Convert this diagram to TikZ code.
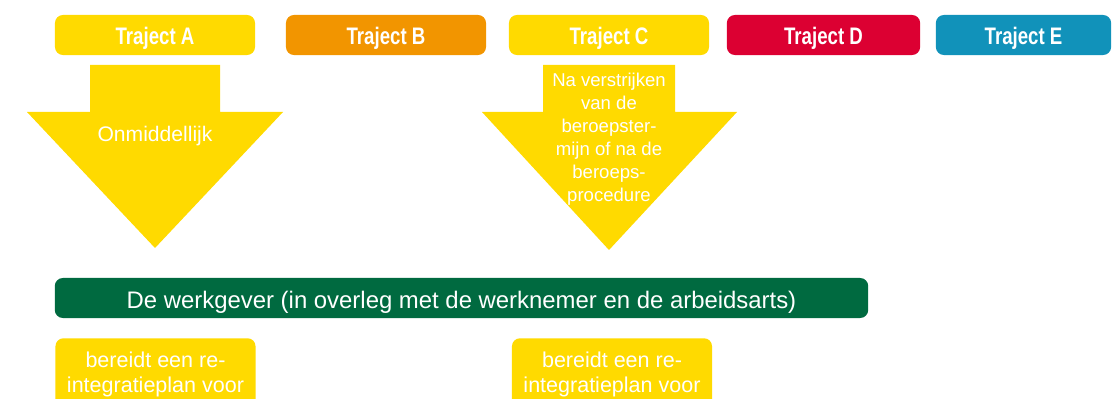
\documentclass[tikz,border=0pt]{standalone}
\usepackage{fontspec}
\setmainfont{Liberation Sans}
\usepackage{xcolor}
\usetikzlibrary{positioning}
\definecolor{geel}{HTML}{FFDA00}
\definecolor{oranje}{HTML}{F29500}
\definecolor{rood}{HTML}{DC0032}
\definecolor{blauw}{HTML}{1192BA}
\definecolor{groen}{HTML}{006A40}
\newcommand{\trajtxt}[1]{\scalebox{0.78}[1]{\fontsize{17}{17}\selectfont\bfseries #1}}

\begin{document}
\begin{tikzpicture}[x = 0.025cm, y = -0.025cm,
		traject/.style = { rounded corners = 2mm, minimum height = 1cm, text = white, inner sep = 0pt, text height = 16pt, text depth = 3pt },
		plan/.style = { fill = geel, rounded corners = 2mm, minimum width = 5cm, minimum height = 1.8cm, text = white, align = center, font = \fontsize{15.3}{18}\selectfont, inner sep = 0pt },
		pijl/.style = { fill = geel }]
		\useasboundingbox (0, 0) rectangle (1112, 399);
		\clip (0, 0) rectangle (1112, 399);

		\node [traject, fill = geel,   minimum width = 5cm]    (tA) at (155, 35) {\trajtxt{Traject A}};
		\node [traject, fill = oranje, minimum width = 5cm]    (tB) at (386, 35) {\trajtxt{Traject B}};
		\node [traject, fill = geel,   minimum width = 5cm]    (tC) at (609, 35) {\trajtxt{Traject C}};
		\node [traject, fill = rood,   minimum width = 4.83cm] (tD) at (823.5, 35) {\trajtxt{Traject D}};
		\node [traject, fill = blauw,  minimum width = 4.38cm] (tE) at (1023.5, 35) {\trajtxt{Traject E}};

		% pijlen
		\fill [pijl] (90, 65) -- (220, 65) -- (220, 112) -- (283, 112) -- (155, 248) -- (27, 112) -- (90, 112) -- cycle;
		\fill [pijl] (543, 65) -- (675, 65) -- (675, 112) -- (737, 112) -- (609, 250) -- (482, 112) -- (543, 112) -- cycle;

		\node [text = white, font = \fontsize{15}{17}\selectfont] (pA) at (155, 136) {Onmiddellijk};
		\node [text = white, align = center, font = \fontsize{13.2}{16.4}\selectfont, inner sep = 0pt] (pC) at (609, 139)
			{Na verstrijken\\van de\\beroepster-\\mijn of na de\\beroeps-\\procedure};

		\node [traject, fill = groen, minimum width = 20.33cm, font = \fontsize{17}{17}\selectfont, text height = 17pt, text depth = 2.6pt] (wg) at (461.5, 298)
			{De werkgever (in overleg met de werknemer en de arbeidsarts)};

		\node [plan, anchor = north] (planA) at (155.5, 338) {bereidt een re-\\integratieplan voor};
		\node [plan, anchor = north] (planC) at (612, 338) {bereidt een re-\\integratieplan voor};
	\end{tikzpicture}
\end{document}
